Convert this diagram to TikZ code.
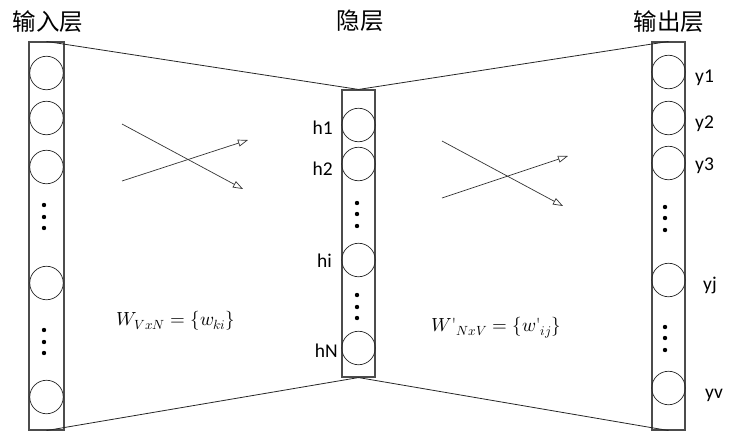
\documentclass[tikz,border=0pt]{standalone}
\usepackage{fontspec}
\usepackage{unicode-math}
\setmathfont{Latin Modern Math}
\newfontfamily\cjk{Noto Sans CJK SC}
\newfontfamily\tagfont{Carlito}
\usetikzlibrary{arrows.meta,positioning}

\begin{document}
\begin{tikzpicture}[x=1pt,y=-1pt,
  layerbox/.style={draw=black!70,line width=1.1pt,inner sep=0pt},
  neuron/.style={circle,draw=black!85,line width=0.7pt,minimum size=33.5pt,inner sep=0pt},
  vdot/.style={circle,fill=black,minimum size=4.4pt,inner sep=0pt},
  title/.style={font=\cjk\fontsize{23.5}{26}\selectfont,inner sep=0pt},
  tag/.style={font=\tagfont\fontsize{19.5}{22}\selectfont,inner sep=0pt},
  link/.style={draw=black!85,line width=0.8pt},
  flow/.style={draw=black!80,line width=0.7pt,-{Triangle[open,length=10pt,width=7pt]}},
  weight/.style={font=\fontsize{19}{22}\selectfont,inner sep=0pt}]
  \useasboundingbox (0,0) rectangle (738,431);
  % Layer boxes
  \node[layerbox,minimum width=35pt,minimum height=388pt] (inbox) at (46.5,236) {};
  \node[layerbox,minimum width=33pt,minimum height=287pt] (hidbox) at (358.5,233.5) {};
  \node[layerbox,minimum width=33pt,minimum height=388pt] (outbox) at (668.5,236) {};
  % Outline of the network
  \draw[link] (inbox.north) -- (hidbox.north) -- (outbox.north);
  \draw[link] (inbox.south) -- (hidbox.south) -- (outbox.south);
  % Titles
  \node[title] (tin) at (48,22) {输入层};
  \node[title] (thid) at (360,21) {隐层};
  \node[title] (tout) at (669,22) {输出层};
  % Input neurons
  \node[neuron] (x1) at (46.5,73) {};
  \node[neuron] (x2) at (46.5,118) {};
  \node[neuron] (x3) at (46.5,167) {};
  \node[neuron] (xk) at (46.5,283) {};
  \node[neuron] (xv) at (46.5,397) {};
  \node[vdot] (xd1) at (44,205) {};
  \node[vdot] (xd2) at (44,217) {};
  \node[vdot] (xd3) at (44,228) {};
  \node[vdot] (xd4) at (44,330) {};
  \node[vdot] (xd5) at (44,342) {};
  \node[vdot] (xd6) at (44,353) {};
  % Hidden neurons
  \node[neuron] (h1) at (358.5,125) {};
  \node[neuron] (h2) at (358.5,164) {};
  \node[neuron] (hi) at (358.5,260) {};
  \node[neuron] (hN) at (358.5,348) {};
  \node[vdot] (hd1) at (357,203) {};
  \node[vdot] (hd2) at (357,214) {};
  \node[vdot] (hd3) at (357,226) {};
  \node[vdot] (hd4) at (357,295) {};
  \node[vdot] (hd5) at (357,307) {};
  \node[vdot] (hd6) at (357,318) {};
  \node[tag,anchor=base east] (lh1) at (333,134) {h1};
  \node[tag,anchor=base east] (lh2) at (333,175) {h2};
  \node[tag,anchor=base east] (lhi) at (332,267) {hi};
  \node[tag,anchor=base east] (lhN) at (338,357) {hN};
  % Output neurons
  \node[neuron] (y1) at (668.5,72) {};
  \node[neuron] (y2) at (668.5,118) {};
  \node[neuron] (y3) at (668.5,163) {};
  \node[neuron] (yj) at (668.5,280) {};
  \node[neuron] (yv) at (668.5,388) {};
  \node[vdot] (yd1) at (665,207) {};
  \node[vdot] (yd2) at (665,218) {};
  \node[vdot] (yd3) at (665,230) {};
  \node[vdot] (yd4) at (665,327) {};
  \node[vdot] (yd5) at (665,338) {};
  \node[vdot] (yd6) at (665,350) {};
  \node[tag,anchor=base west] (ly1) at (695,82) {y1};
  \node[tag,anchor=base west] (ly2) at (695,128) {y2};
  \node[tag,anchor=base west] (ly3) at (695,170) {y3};
  \node[tag,anchor=base west] (lyj) at (703,290) {yj};
  \node[tag,anchor=base west] (lyv) at (705,398) {yv};
  % Crossing arrows
  \coordinate (la1) at (122,124); \coordinate (la2) at (243,189);
  \coordinate (lb1) at (122,181); \coordinate (lb2) at (248,140);
  \coordinate (ra1) at (442,141); \coordinate (ra2) at (563,206);
  \coordinate (rb1) at (442,198); \coordinate (rb2) at (568,156);
  \draw[flow] (la1) -- (la2);
  \draw[flow] (lb1) -- (lb2);
  \draw[flow] (ra1) -- (ra2);
  \draw[flow] (rb1) -- (rb2);
  % Weight matrices
  \node[weight,anchor=base] (win) at (176,325) {$W_{VxN}=\{w_{ki}\}$};
  \node[weight,anchor=base] (wout) at (496,331)
    {${W\mbox{\textquotesingle}}_{NxV}=\{{w\mbox{\textquotesingle}}_{ij}\}$};
\end{tikzpicture}
\end{document}
